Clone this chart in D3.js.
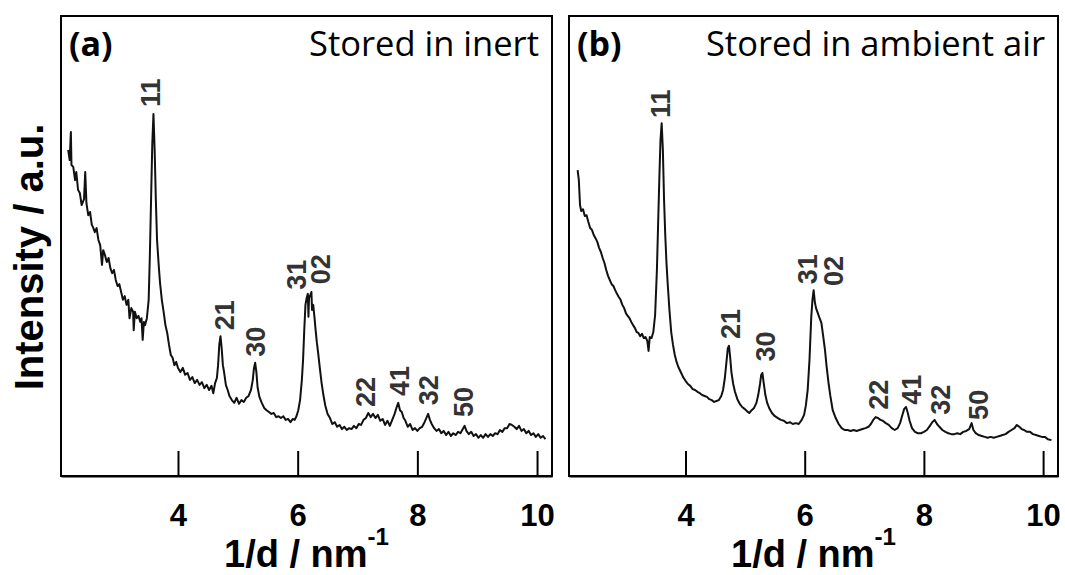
<!DOCTYPE html>
<html>
<head>
<meta charset="utf-8">
<script src="https://cdn.jsdelivr.net/npm/d3@7"></script>
<style>
  body { margin: 0; background: #fff; }
  svg { display: block; }
  .axis path, .axis line { stroke: #000; stroke-width: 2; }
</style>
</head>
<body>
<svg id="chart" width="1065" height="575"></svg>
<script>
// spectrum (a): stored in inert  [1/d (nm^-1), intensity a.u.]
var inertSpectrum = [
  [2.165,70.9],[2.19,68.7],[2.21,74.8],[2.22,67.6],[2.25,67.2],[2.28,64.3],[2.30,66.1],[2.33,62.2],[2.36,61.5],[2.39,58.9],
  [2.43,60.2],[2.45,66.1],[2.47,59.3],[2.50,56.7],[2.53,57.4],[2.56,54.6],[2.58,54.1],[2.61,53.0],[2.64,53.9],[2.67,51.3],
  [2.70,50.2],[2.73,45.9],[2.75,49.1],[2.78,48.0],[2.81,46.5],[2.84,47.4],[2.87,45.2],[2.90,44.1],[2.93,44.8],[2.96,42.6],
  [2.99,41.3],[3.02,41.7],[3.05,40.0],[3.08,38.3],[3.11,39.1],[3.14,37.2],[3.17,38.3],[3.19,34.3],[3.22,36.5],[3.25,35.7],
  [3.26,31.7],[3.28,35.7],[3.31,34.3],[3.34,34.8],[3.37,33.5],[3.39,34.3],[3.41,29.6],[3.43,33.5],[3.45,32.8],[3.48,34.3],
  [3.51,38.3],[3.53,48.0],[3.55,60.0],[3.57,72.0],[3.59,78.7],[3.61,70.9],[3.63,60.0],[3.65,51.3],[3.68,45.4],[3.70,42.0],
  [3.73,38.3],[3.76,35.7],[3.79,32.8],[3.82,31.1],[3.85,28.5],[3.88,26.3],[3.91,25.7],[3.94,24.1],[3.97,24.8],[4.00,23.5],
  [4.04,22.6],[4.08,23.5],[4.12,22.0],[4.16,22.4],[4.20,20.9],[4.24,21.5],[4.28,20.2],[4.32,20.9],[4.36,19.8],[4.40,20.4],
  [4.44,19.1],[4.48,19.8],[4.52,18.7],[4.56,19.6],[4.59,18.0],[4.62,20.2],[4.65,21.3],[4.67,24.1],[4.69,28.5],[4.71,30.4],
  [4.73,27.8],[4.75,24.1],[4.77,22.6],[4.80,19.8],[4.83,18.7],[4.86,17.4],[4.90,16.5],[4.94,15.9],[4.98,17.0],[5.02,15.7],
  [5.06,16.5],[5.10,16.1],[5.14,17.0],[5.18,17.4],[5.22,18.7],[5.25,20.9],[5.27,23.5],[5.29,24.6],[5.31,22.6],[5.33,19.3],
  [5.36,17.2],[5.40,15.9],[5.44,14.8],[5.48,14.3],[5.52,13.9],[5.56,13.5],[5.60,13.7],[5.64,12.8],[5.68,13.0],[5.72,12.6],
  [5.76,13.0],[5.80,12.2],[5.84,12.4],[5.88,11.7],[5.92,12.4],[5.95,12.2],[5.98,13.0],[6.01,14.3],[6.04,16.5],[6.07,20.9],
  [6.09,25.2],[6.11,31.7],[6.13,37.2],[6.15,38.7],[6.17,39.6],[6.18,34.6],[6.19,38.7],[6.21,39.3],[6.23,40.0],[6.24,36.1],
  [6.26,37.2],[6.28,34.6],[6.30,31.7],[6.32,29.1],[6.34,27.0],[6.37,23.5],[6.40,20.2],[6.43,17.6],[6.46,15.4],[6.50,13.5],
  [6.54,12.6],[6.58,11.3],[6.62,11.7],[6.66,10.7],[6.70,11.1],[6.74,10.2],[6.78,10.7],[6.82,10.0],[6.86,10.4],[6.90,10.2],
  [6.94,10.9],[6.98,10.4],[7.02,11.3],[7.06,11.1],[7.10,12.2],[7.14,12.6],[7.18,13.7],[7.22,12.8],[7.26,13.5],[7.30,12.6],
  [7.34,13.3],[7.38,12.0],[7.42,12.4],[7.46,11.1],[7.50,12.0],[7.54,10.9],[7.58,12.2],[7.62,13.5],[7.65,14.8],[7.68,15.9],
  [7.71,14.3],[7.74,13.9],[7.77,12.6],[7.80,12.0],[7.84,10.7],[7.88,11.3],[7.92,10.0],[7.96,10.4],[8.00,9.8],[8.04,10.4],
  [8.08,10.7],[8.12,11.7],[8.15,12.6],[8.18,13.5],[8.21,12.2],[8.24,11.3],[8.28,10.4],[8.32,9.8],[8.36,10.2],[8.40,9.3],
  [8.44,9.8],[8.48,8.9],[8.52,9.6],[8.56,8.7],[8.60,9.3],[8.64,8.9],[8.68,9.6],[8.72,9.3],[8.76,10.2],[8.79,10.9],
  [8.82,9.8],[8.86,9.1],[8.90,9.6],[8.94,8.7],[8.98,9.1],[9.02,8.3],[9.06,8.9],[9.10,8.3],[9.14,9.1],[9.18,8.5],
  [9.22,9.1],[9.26,8.7],[9.30,9.3],[9.34,9.1],[9.38,10.0],[9.42,9.6],[9.46,10.4],[9.50,10.4],[9.54,11.3],[9.58,11.1],
  [9.62,10.7],[9.66,10.2],[9.70,10.9],[9.74,9.8],[9.78,10.2],[9.82,9.3],[9.86,9.8],[9.90,8.9],[9.94,9.3],[9.98,8.5],
  [10.02,9.1],[10.06,8.3],[10.10,8.7],[10.14,8.0]
];

// spectrum (b): stored in ambient air
var airSpectrum = [
  [2.19,66.5],[2.21,64.3],[2.23,58.9],[2.25,57.6],[2.28,58.0],[2.31,56.5],[2.34,56.7],[2.37,55.2],[2.40,53.9],[2.43,53.5],
  [2.46,52.4],[2.49,51.7],[2.52,50.9],[2.55,49.6],[2.58,48.7],[2.61,47.4],[2.64,46.3],[2.67,44.8],[2.70,43.5],[2.73,42.6],
  [2.76,41.7],[2.79,41.3],[2.82,40.4],[2.85,39.6],[2.88,38.9],[2.91,38.3],[2.94,37.2],[2.97,36.5],[3.00,35.4],[3.03,34.8],
  [3.06,34.3],[3.09,33.5],[3.12,32.8],[3.15,32.2],[3.18,31.3],[3.21,31.1],[3.24,30.4],[3.27,30.9],[3.30,30.0],[3.33,30.2],
  [3.36,29.3],[3.38,27.2],[3.40,30.2],[3.43,30.0],[3.46,31.3],[3.49,35.0],[3.52,44.8],[3.54,54.6],[3.56,64.3],[3.58,73.0],
  [3.60,76.7],[3.62,70.9],[3.64,60.0],[3.66,52.4],[3.68,46.5],[3.70,42.0],[3.73,36.1],[3.76,31.3],[3.79,28.5],[3.82,26.3],
  [3.85,24.8],[3.88,23.7],[3.92,22.6],[3.96,21.5],[4.00,20.7],[4.04,20.0],[4.08,19.6],[4.12,18.9],[4.16,18.7],[4.20,18.3],
  [4.24,18.0],[4.28,17.6],[4.32,17.4],[4.36,17.2],[4.40,16.7],[4.44,16.5],[4.48,16.1],[4.52,16.3],[4.56,16.5],[4.60,17.4],
  [4.63,18.7],[4.66,21.3],[4.69,25.2],[4.71,27.8],[4.73,28.3],[4.75,25.7],[4.77,22.6],[4.80,20.0],[4.83,18.3],[4.87,16.7],
  [4.91,15.7],[4.95,15.0],[4.99,14.6],[5.03,14.1],[5.07,13.7],[5.11,14.3],[5.15,14.8],[5.19,15.9],[5.22,17.6],[5.25,20.0],
  [5.27,22.0],[5.29,22.4],[5.31,20.4],[5.34,17.6],[5.37,15.9],[5.41,14.6],[5.45,13.7],[5.50,13.0],[5.55,12.6],[5.60,12.2],
  [5.65,12.0],[5.70,11.5],[5.75,11.7],[5.80,11.3],[5.85,11.5],[5.90,11.3],[5.95,12.2],[5.99,13.3],[6.02,15.4],[6.05,18.7],
  [6.08,25.2],[6.11,34.6],[6.13,38.3],[6.15,40.4],[6.17,37.8],[6.19,36.5],[6.22,35.4],[6.25,34.3],[6.28,33.3],[6.31,30.4],
  [6.34,27.4],[6.37,23.5],[6.40,20.2],[6.43,17.4],[6.47,14.3],[6.52,12.6],[6.57,11.3],[6.62,10.4],[6.67,10.0],[6.72,10.0],
  [6.77,9.8],[6.82,10.0],[6.87,9.8],[6.92,10.0],[6.97,10.2],[7.02,10.4],[7.07,10.7],[7.11,11.3],[7.15,12.2],[7.19,12.8],
  [7.23,12.6],[7.27,12.2],[7.31,12.0],[7.36,11.5],[7.41,11.1],[7.46,10.4],[7.51,10.0],[7.56,10.4],[7.60,11.5],[7.64,13.3],
  [7.67,14.6],[7.70,15.0],[7.73,13.7],[7.76,12.0],[7.80,10.4],[7.85,9.6],[7.90,9.3],[7.95,9.3],[8.00,9.6],[8.05,10.0],
  [8.10,10.9],[8.14,11.7],[8.18,12.2],[8.22,11.3],[8.26,10.7],[8.31,10.0],[8.36,9.6],[8.41,9.3],[8.46,9.1],[8.51,9.1],
  [8.56,9.3],[8.61,9.1],[8.66,9.6],[8.71,9.8],[8.76,10.2],[8.80,11.5],[8.83,10.0],[8.87,9.3],[8.92,8.9],[8.97,8.7],
  [9.02,8.5],[9.07,8.3],[9.12,8.5],[9.17,8.3],[9.22,8.5],[9.27,8.7],[9.32,8.9],[9.37,9.1],[9.42,9.6],[9.47,10.0],
  [9.52,10.4],[9.56,11.1],[9.60,10.7],[9.64,10.2],[9.68,10.0],[9.73,9.6],[9.78,9.6],[9.83,9.1],[9.88,8.9],[9.93,8.7],
  [9.98,8.5],[10.03,8.5],[10.08,8.0],[10.14,7.8]
];

var xTicks = [4, 6, 8, 10];
var peakNames = ["11", "21", "30", "31", "02", "22", "41", "32", "50"];
var peakXInert = [3.54, 4.78, 5.29, 5.97, 6.38, 7.13, 7.70, 8.19, 8.76];
var peakYInert = [80.2, 31.7, 25.9, 40.5, 41.7, 15.0, 17.4, 15.4, 12.8];
var peakXAir = [3.57, 4.755, 5.34, 6.04, 6.48, 7.24, 7.78, 8.27, 8.92];
var peakYAir = [77.8, 29.8, 24.9, 41.7, 41.3, 14.4, 15.5, 13.3, 12.2];
var panelTags = ["(a)", "(b)"];
var panelTitles = ["Stored in inert", "Stored in ambient air"];

var svg = d3.select("#chart");
var plotTop = 16, plotBottom = 476;

var panels = [
  { left: 61, right: 552, data: inertSpectrum, px: peakXInert, py: peakYInert },
  { left: 569, right: 1058, data: airSpectrum, px: peakXAir, py: peakYAir }
];

var y = d3.scaleLinear().domain([0, 100]).range([plotBottom, plotTop]);

panels.forEach(function(p, i) {
  var x = d3.scaleLinear().domain([2.045, 10.25]).range([p.left, p.right]);
  var g = svg.append("g");

  // frame
  g.append("rect")
    .attr("x", p.left).attr("y", plotTop)
    .attr("width", p.right - p.left).attr("height", plotBottom - plotTop)
    .attr("fill", "none").attr("stroke", "#000").attr("stroke-width", 2);

  var ax = g.append("g")
    .attr("class", "axis")
    .attr("transform", "translate(0," + plotBottom + ")")
    .call(d3.axisBottom(x).tickValues(xTicks).tickSizeInner(-25).tickSizeOuter(0).tickPadding(28));
  ax.selectAll("text")
    .style("font-family", "'Liberation Sans', Arial, sans-serif")
    .style("font-weight", "bold")
    .style("font-size", "31px")
    .style("fill", "#000");

  var line = d3.line()
    .x(function(d) { return x(d[0]); })
    .y(function(d) { return y(d[1]); });

  g.append("path")
    .datum(p.data)
    .attr("d", line)
    .attr("fill", "none")
    .attr("stroke", "#111")
    .attr("stroke-width", 2)
    .attr("stroke-linejoin", "round");

  // peak (hk) labels
  g.selectAll(".peak")
    .data(peakNames)
    .enter().append("text")
      .attr("class", "peak")
      .attr("transform", function(d, j) { return "translate(" + x(p.px[j]) + "," + y(p.py[j]) + ") rotate(-90)"; })
      .attr("dy", "0.36em")
      .style("font-family", "'Liberation Sans', Arial, sans-serif")
      .style("font-weight", "bold")
      .style("font-size", "27px")
      .style("fill", "#333")
      .text(function(d) { return d; });

  g.append("text")
    .attr("x", p.left + 8).attr("y", 56)
    .style("font-family", "'Open Sans', sans-serif")
    .style("font-weight", "bold")
    .style("font-size", "34px")
    .text(panelTags[i]);

  g.append("text")
    .attr("x", p.right - 13).attr("y", 56)
    .attr("text-anchor", "end")
    .style("font-family", "'Open Sans', sans-serif")
    .style("font-size", "34.5px")
    .text(panelTitles[i]);

  var xt = g.append("text")
    .attr("x", (p.left + p.right) / 2).attr("y", 567)
    .attr("text-anchor", "middle")
    .style("font-family", "'Liberation Sans', Arial, sans-serif")
    .style("font-weight", "bold")
    .style("font-size", "38px");
  xt.append("tspan").text("1/d / nm");
  xt.append("tspan").attr("dy", -22).style("font-size", "24px").text("-1");
});

svg.append("text")
  .attr("transform", "translate(43,257) rotate(-90)")
  .attr("text-anchor", "middle")
  .style("font-family", "'Liberation Sans', Arial, sans-serif")
  .style("font-weight", "bold")
  .style("font-size", "40px")
  .text("Intensity / a.u.");
</script>
</body>
</html>
